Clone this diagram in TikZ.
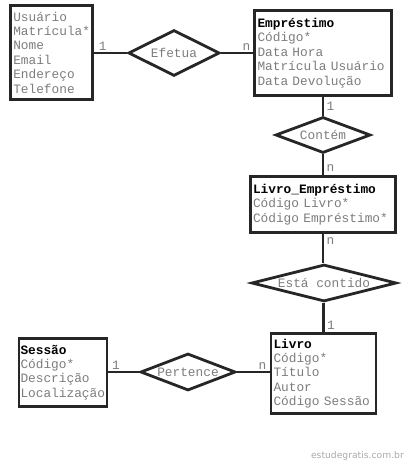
\documentclass[tikz,border=0pt]{standalone}
\usepackage{fontspec}
\setmonofont{Liberation Mono}
\newfontfamily\wmfont{DejaVu Sans}
\usetikzlibrary{shapes.geometric}
\definecolor{linec}{RGB}{38,38,38}
\definecolor{attrc}{RGB}{125,125,125}
\definecolor{wmc}{RGB}{170,170,170}
\tikzset{
  entity/.style={draw=linec, line width=2.8pt, rectangle, inner ysep=0pt, inner xsep=4pt,
    align=left, text=attrc, font=\ttfamily\fontsize{12.8}{14.4}\selectfont},
  rel/.style={draw=linec, line width=2.8pt, diamond, inner sep=0pt},
  rellabel/.style={text=attrc, font=\ttfamily\fontsize{12.8}{14.4}\selectfont, inner sep=0pt},
  card/.style={text=attrc, font=\ttfamily\fontsize{12.8}{14.4}\selectfont, inner sep=0pt},
  conn/.style={draw=linec, line width=2.8pt}
}
\newcommand{\etitle}[1]{\textcolor{black}{\textbf{#1}}}
\begin{document}
\begin{tikzpicture}[x=1pt,y=-1pt]
\path[use as bounding box, fill=white] (0,0) rectangle (407,462);

% entities
\node[entity, minimum width=82pt, minimum height=94pt, text width=76pt, inner xsep=3pt] (usuario) at (51.25,52.5)
  {Usuário\\Matrícula*\\Nome\\Email\\Endereço\\Telefone};
\node[entity, minimum width=137pt, minimum height=85pt, text width=131pt, inner xsep=3pt] (emprestimo) at (323,53)
  {\etitle{Empréstimo}\\Código*\\Data Hora\\Matrícula Usuário\\Data Devolução};
\node[entity, minimum width=145pt, minimum height=56pt, text width=140pt, inner xsep=2.5pt] (livroemp) at (323,204.5)
  {\etitle{Livro\_Empréstimo}\\Código Livro*\\Código Empréstimo*};
\node[entity, minimum width=104pt, minimum height=80pt, text width=100pt, inner xsep=2.5pt] (livro) at (323.5,373.5)
  {\etitle{Livro}\\Código*\\Título\\Autor\\Código Sessão};
\node[entity, inner xsep=1.5pt, minimum width=85pt, minimum height=68pt, text width=85pt] (sessao) at (63,372.5)
  {\etitle{Sessão}\\Código*\\Descrição\\Localização};

% relationships
\node[rel, minimum width=91pt, minimum height=46pt] (efetua) at (174,53) {};
\node[rellabel] (efetual) at (efetua.center) {Efetua};
\node[rel, minimum width=95pt, minimum height=36pt] (contem) at (323,135) {};
\node[rellabel] (conteml) at (contem.center) {Contém};
\node[rel, minimum width=145pt, minimum height=37pt] (contido) at (324,283) {};
\node[rellabel] (contidol) at (contido.center) {Está contido};
\node[rel, minimum width=95pt, minimum height=37pt] (pertence) at (188,372) {};
\node[rellabel] (pertencel) at (pertence.center) {Pertence};

% connectors
\draw[conn] (usuario.east |- efetua.west) -- (efetua.west);
\draw[conn] (efetua.east) -- (emprestimo.west |- efetua.east);
\draw[conn] (emprestimo.south) -- (contem.north);
\draw[conn] (contem.south) -- (livroemp.north);
\draw[conn] (livroemp.south) -- (contido.north -| livroemp.south);
\draw[conn] (contido.south -| livro.north) -- (livro.north);
\draw[conn] (sessao.east |- pertence.west) -- (pertence.west);
\draw[conn] (pertence.east) -- (livro.west |- pertence.east);

% cardinalities
\node[card, anchor=base west] (c1) at ([xshift=5pt,yshift=2.7pt]usuario.east |- efetua.west) {1};
\node[card, anchor=base east] (c2) at ([xshift=-2.5pt,yshift=2.7pt]emprestimo.west |- efetua.east) {n};
\node[card, anchor=north west] (c3) at ([xshift=3.5pt,yshift=-5pt]emprestimo.south) {1};
\node[card, anchor=base west] (c4) at ([xshift=3.5pt,yshift=4pt]livroemp.north) {n};
\node[card, anchor=north west] (c5) at ([xshift=3.5pt,yshift=-4pt]livroemp.south) {n};
\node[card, anchor=base west] (c6) at ([xshift=3.5pt,yshift=3pt]livro.north) {1};
\node[card, anchor=base west] (c7) at ([xshift=3.5pt,yshift=2.2pt]sessao.east |- pertence.west) {1};
\node[card, anchor=base east] (c8) at ([xshift=-3pt,yshift=2.2pt]livro.west |- pertence.east) {n};

% watermark
\node[anchor=east, inner sep=0pt, text=wmc, font=\wmfont\fontsize{9.2}{11}\selectfont] (wm) at (404,456) {estudegratis.com.br};
\end{tikzpicture}
\end{document}
